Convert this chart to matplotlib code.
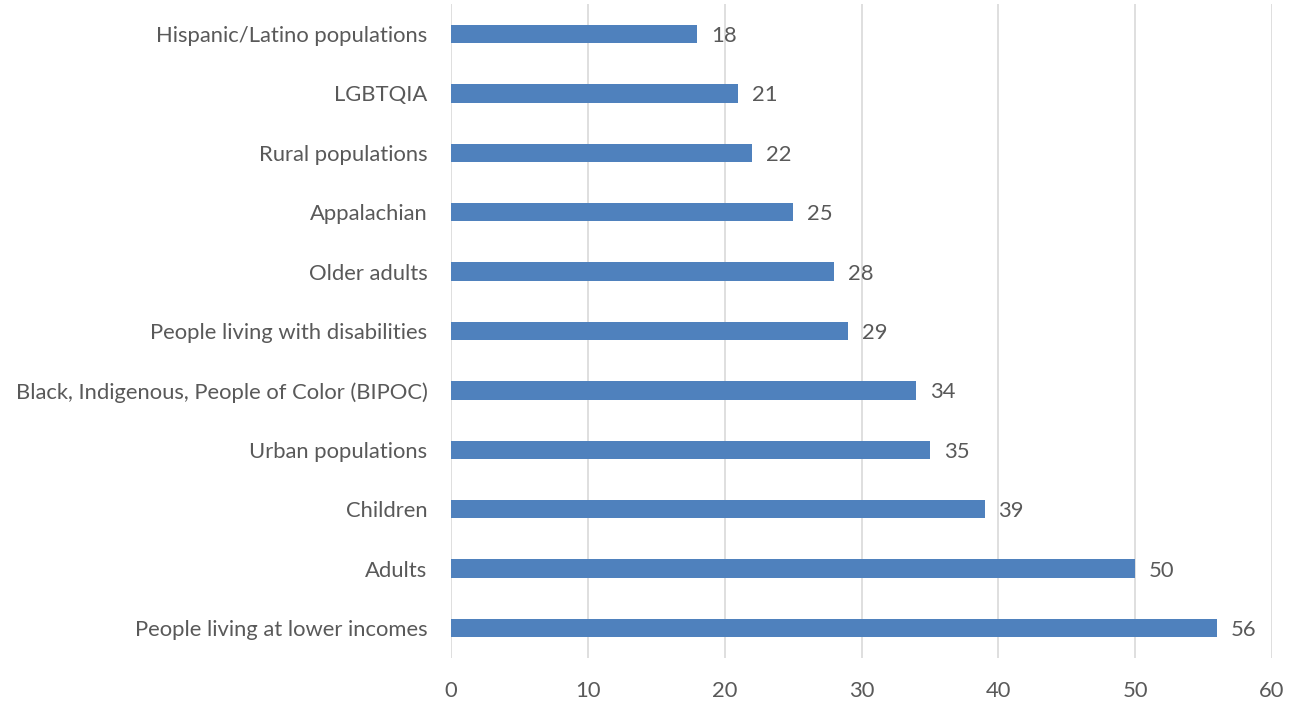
import matplotlib
matplotlib.use("Agg")
import matplotlib.pyplot as plt

categories = ["People living at lower incomes", "Adults", "Children",
              "Urban populations", "Black, Indigenous, People of Color (BIPOC)",
              "People living with disabilities", "Older adults", "Appalachian",
              "Rural populations", "LGBTQIA", "Hispanic/Latino populations"]
values = [56, 50, 39, 35, 34, 29, 28, 25, 22, 21, 18]
xticks = [0, 10, 20, 30, 40, 50, 60]

bar_color = "#4F81BD"
text_color = "#595959"
grid_color = "#D9D9D9"
fs = 15.8

plt.rcParams['font.family'] = ['Lato', 'DejaVu Sans']

fig = plt.figure(figsize=(13.12, 7.01), dpi=100)
ax = fig.add_axes([0.3438, 0.0618, 0.6257, 0.9321])

pos = list(range(len(categories)))
ax.barh(pos, values, height=0.31, color=bar_color, zorder=3)
for p, v in zip(pos, values):
    ax.annotate(str(v), (v, p), xytext=(10, 0), textcoords="offset points",
                va="center_baseline", ha="left", fontsize=fs, color=text_color)

ax.set_xlim(0, 60)
ax.set_ylim(-0.5, len(categories) - 0.5)
ax.set_xticks(xticks)
ax.set_yticks(pos)
ax.set_yticklabels(categories, va="center_baseline")
ax.tick_params(axis='both', length=0, labelsize=fs, colors=text_color)
ax.tick_params(axis='y', pad=17)
ax.tick_params(axis='x', pad=17)
ax.grid(axis='x', color=grid_color, linewidth=1.2, zorder=0)
for s in ax.spines.values():
    s.set_visible(False)

fig.savefig("out.png", dpi=100)
